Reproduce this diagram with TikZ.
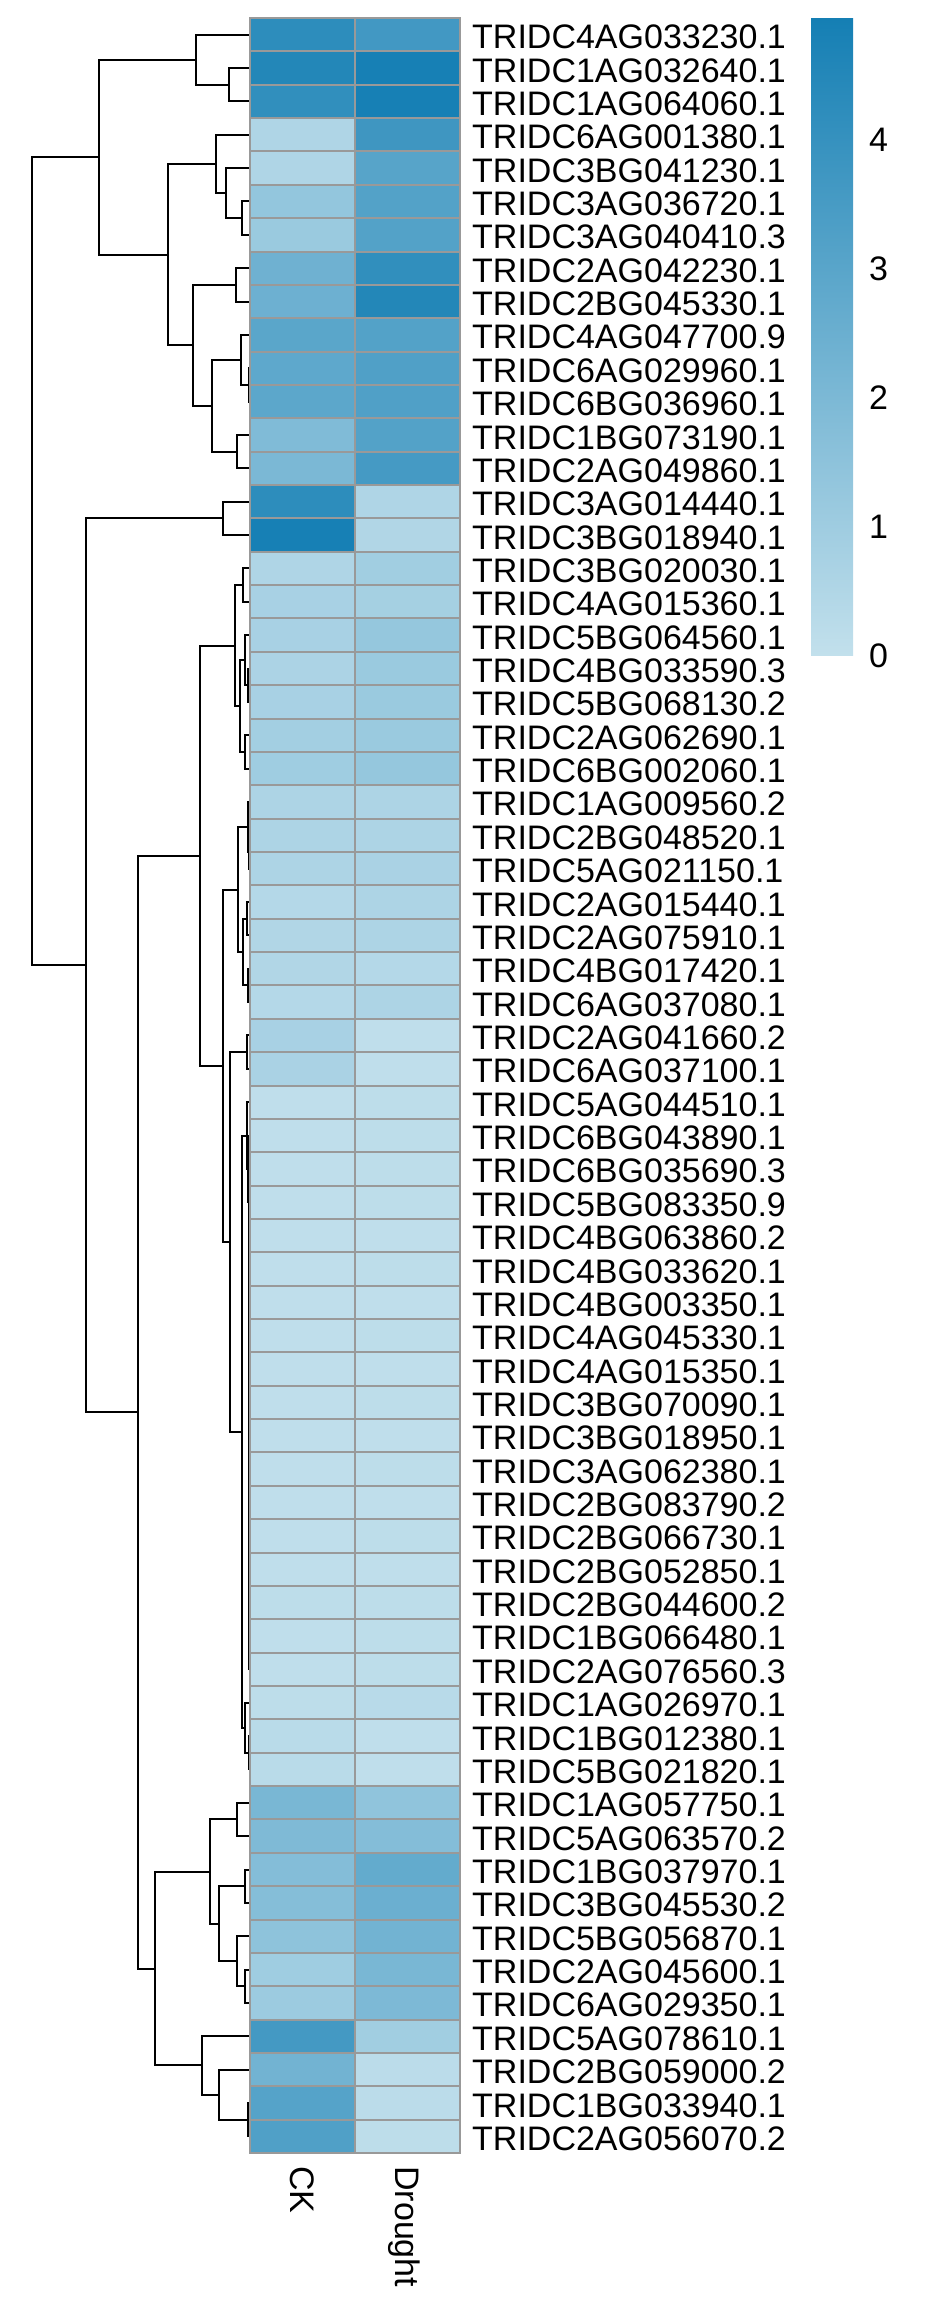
\documentclass[tikz,border=0pt]{standalone}
\usepackage{fontspec}
\setmainfont{Liberation Sans}
\usepackage{tikz}
\usetikzlibrary{calc}
\definecolor{lowc}{RGB}{194,224,236}
\definecolor{highc}{RGB}{21,127,180}
\definecolor{gridc}{RGB}{153,153,153}
\newcommand\dmerge[4]{%
  \coordinate (tmp) at ($(#3)!0.5!(#4)$);
  \coordinate (#1) at (tmp -| #2,0);
  \draw[branch] (#3) -| (#1) |- (#4);}

\begin{document}
\begin{tikzpicture}[x=1pt,y=-1pt,
        branch/.style={line width=2pt,black},
        cell/.style={draw=gridc,line width=2pt},
        lab/.style={anchor=base west,inner sep=0pt,font=\fontsize{34}{40}\selectfont}]
        \useasboundingbox (0,0) rectangle (930,2314);
        \foreach \k in {1,...,64} \coordinate (l\k) at (250,{18+(\k-0.5)*33.36});
        %\draw[help lines] (0,0) grid (930,2314);
        \dmerge{n23}{229.3}{l2}{l3}
        \dmerge{n13}{196}{l1}{n23}
        \dmerge{n67}{242.3}{l6}{l7}
        \dmerge{n57}{225.7}{l5}{n67}
        \dmerge{n47}{215.7}{l4}{n57}
        \dmerge{n89}{236}{l8}{l9}
        \dmerge{n1112}{249}{l11}{l12}
        \dmerge{n1012}{241}{l10}{n1112}
        \dmerge{n1314}{236.7}{l13}{l14}
        \dmerge{n1014}{211.7}{n1012}{n1314}
        \dmerge{n814}{193.3}{n89}{n1014}
        \dmerge{n414}{168.3}{n47}{n814}
        \dmerge{n114}{99}{n13}{n414}
        \dmerge{n1516}{223.3}{l15}{l16}
        \dmerge{n1718}{243.3}{l17}{l18}
        \dmerge{n2021}{248}{l20}{l21}
        \dmerge{n1921}{245}{l19}{n2021}
        \dmerge{n2223}{245}{l22}{l23}
        \dmerge{n1923}{240}{n1921}{n2223}
        \dmerge{n1723}{235}{n1718}{n1923}
        \dmerge{n2526}{249}{l25}{l26}
        \dmerge{n2426}{247.5}{l24}{n2526}
        \dmerge{n2728}{247}{l27}{l28}
        \dmerge{n2930}{248}{l29}{l30}
        \dmerge{n2730}{243}{n2728}{n2930}
        \dmerge{n2430}{237.7}{n2426}{n2730}
        \dmerge{n3132}{247}{l31}{l32}
        \dmerge{c49}{248.8}{l49}{l50}
        \foreach \k in {48,47,...,35} {\pgfmathtruncatemacro\j{\k+1}\dmerge{c\k}{248.8}{l\k}{c\j}}
        \dmerge{c34}{247.5}{l34}{c35}
        \dmerge{c33}{246.5}{l33}{c34}
        \dmerge{n5253}{248.5}{l52}{l53}
        \dmerge{n5153}{244.5}{l51}{n5253}
        \dmerge{n3353}{241.7}{c33}{n5153}
        \dmerge{n3153}{230}{n3132}{n3353}
        \dmerge{n2453}{222.7}{n2430}{n3153}
        \dmerge{n1753}{200}{n1723}{n2453}
        \dmerge{n5455}{236.7}{l54}{l55}
        \dmerge{n5657}{245}{l56}{l57}
        \dmerge{n5960}{245}{l59}{l60}
        \dmerge{n5860}{237.3}{l58}{n5960}
        \dmerge{n5660}{219.3}{n5657}{n5860}
        \dmerge{n5460}{210}{n5455}{n5660}
        \dmerge{n6364}{248.3}{l63}{l64}
        \dmerge{n6264}{219}{l62}{n6364}
        \dmerge{n6164}{201.7}{l61}{n6264}
        \dmerge{n5464}{155}{n5460}{n6164}
        \dmerge{n1764}{137.7}{n1753}{n5464}
        \dmerge{n1564}{86}{n1516}{n1764}
        \dmerge{root}{32.3}{n114}{n1564}
        \foreach \k/\a/\b/\g in {1/86/74/TRIDC4AG033230.1, 2/92/99/TRIDC1AG032640.1,
            3/84/99/TRIDC1AG064060.1, 4/11/76/TRIDC6AG001380.1, 5/11/62/TRIDC3BG041230.1,
            6/27/64/TRIDC3AG036720.1, 7/23/64/TRIDC3AG040410.3, 8/48/84/TRIDC2AG042230.1,
            9/49/92/TRIDC2BG045330.1, 10/60/64/TRIDC4AG047700.9, 11/58/66/TRIDC6AG029960.1,
            12/59/66/TRIDC6BG036960.1, 13/38/64/TRIDC1BG073190.1, 14/41/72/TRIDC2AG049860.1,
            15/86/11/TRIDC3AG014440.1, 16/99/10/TRIDC3BG018940.1, 17/11/19/TRIDC3BG020030.1,
            18/15/17/TRIDC4AG015360.1, 19/15/26/TRIDC5BG064560.1, 20/13/23/TRIDC4BG033590.3,
            21/15/23/TRIDC5BG068130.2, 22/18/23/TRIDC2AG062690.1, 23/20/26/TRIDC6BG002060.1,
            24/12/12/TRIDC1AG009560.2, 25/12/12/TRIDC2BG048520.1, 26/12/14/TRIDC5AG021150.1,
            27/8/12/TRIDC2AG015440.1, 28/10/12/TRIDC2AG075910.1, 29/10/8/TRIDC4BG017420.1,
            30/8/12/TRIDC6AG037080.1, 31/15/2/TRIDC2AG041660.2, 32/14/2/TRIDC6AG037100.1,
            33/2/3/TRIDC5AG044510.1, 34/2/3/TRIDC6BG043890.1, 35/2/3/TRIDC6BG035690.3,
            36/2/3/TRIDC5BG083350.9, 37/2/2/TRIDC4BG063860.2, 38/2/3/TRIDC4BG033620.1,
            39/2/2/TRIDC4BG003350.1, 40/2/3/TRIDC4AG045330.1, 41/2/2/TRIDC4AG015350.1,
            42/2/3/TRIDC3BG070090.1, 43/2/2/TRIDC3BG018950.1, 44/2/3/TRIDC3AG062380.1,
            45/2/2/TRIDC2BG083790.2, 46/2/3/TRIDC2BG066730.1, 47/2/2/TRIDC2BG052850.1,
            48/3/3/TRIDC2BG044600.2, 49/2/3/TRIDC1BG066480.1, 50/2/3/TRIDC2AG076560.3,
            51/3/6/TRIDC1AG026970.1, 52/5/2/TRIDC1BG012380.1, 53/5/2/TRIDC5BG021820.1,
            54/42/29/TRIDC1AG057750.1, 55/39/36/TRIDC5AG063570.2, 56/36/55/TRIDC1BG037970.1,
            57/35/50/TRIDC3BG045530.2, 58/30/46/TRIDC5BG056870.1, 59/20/42/TRIDC2AG045600.1,
            60/22/40/TRIDC6AG029350.1, 61/73/19/TRIDC5AG078610.1, 62/46/4/TRIDC2BG059000.2,
            63/63/4/TRIDC1BG033940.1, 64/66/3/TRIDC2AG056070.2} {
            \pgfmathsetmacro\t{18+(\k-1)*33.36}
            \draw[cell,fill=highc!\a!lowc] (250,\t) rectangle ++(105,33.36);
            \draw[cell,fill=highc!\b!lowc] (355,\t) rectangle ++(105,33.36);
            \node[lab] (g\k) at (472,{\t+30.7}) {\g};
        }
        \node[lab,rotate=-90] (ck) at (290.5,2166) {CK};
        \node[lab,rotate=-90] (dr) at (395.5,2166) {Drought};
        \shade[bottom color=lowc,top color=highc] (811,19) rectangle (853,655);
        \foreach \v in {0,...,4} \node[lab] (t\v) at (869,{667-\v*128.8}) {\v};
    \end{tikzpicture}
\end{document}
